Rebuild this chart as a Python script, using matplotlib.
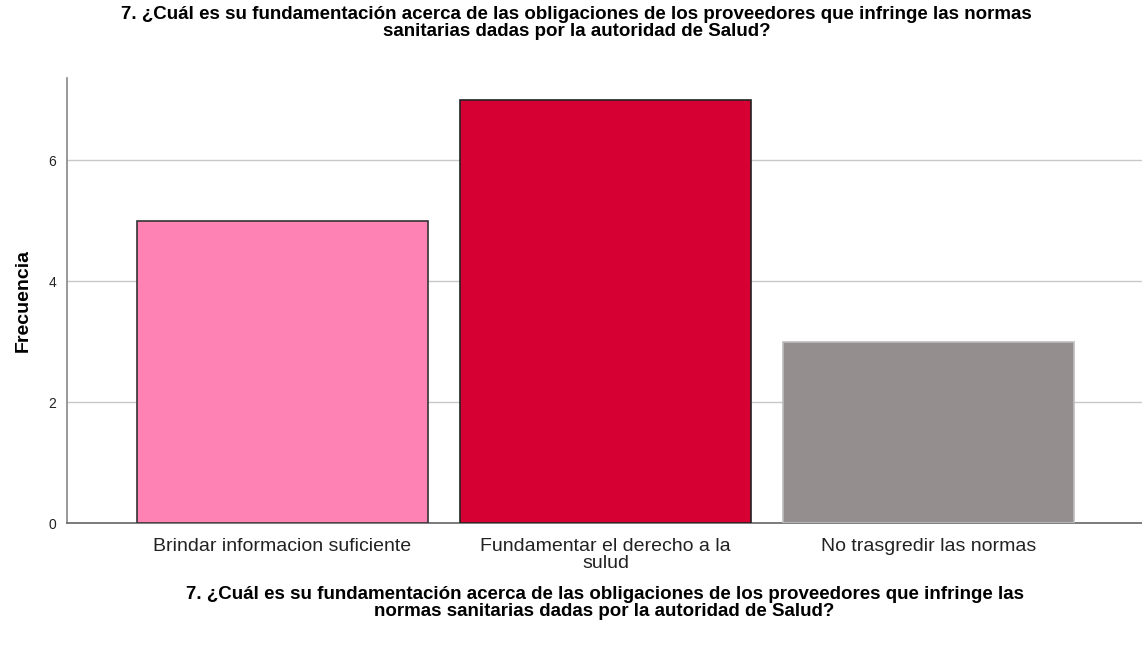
import matplotlib
matplotlib.use('Agg')
import matplotlib.pyplot as plt

plt.rcParams['font.family'] = ['Liberation Sans', 'DejaVu Sans']

# data
categories = ['Brindar informacion suficiente', 'Fundamentar el derecho a la\nsulud',
              'No trasgredir las normas']
frecuencias = [5, 7, 3]
colores = ['#FF82B4', '#D70032', '#948F8E']
bordes = ['#333333', '#222222', '#BDBDBD']
yticks = [0, 2, 4, 6]
titulo = ('7. ¿Cuál es su fundamentación acerca de las obligaciones de los proveedores que infringe las normas\n'
          'sanitarias dadas por la autoridad de Salud?')
titulo_x = ('7. ¿Cuál es su fundamentación acerca de las obligaciones de los proveedores que infringe las\n'
            'normas sanitarias dadas por la autoridad de Salud?')

fig = plt.figure(figsize=(11.42, 6.46), dpi=100)
ax = fig.add_axes([0.0587, 0.1904, 0.9413, 0.6886])

pos = list(range(len(categories)))
ax.bar(pos, frecuencias, width=0.9, color=colores, edgecolor=bordes, linewidth=1.2, zorder=3)

ax.set_xlim(-0.667, 2.66)
ax.set_ylim(0, 7.36)
ax.set_yticks(yticks)
ax.set_xticks(pos)
ax.set_xticklabels(categories, fontsize=14, color='#222222', linespacing=1.0)
ax.tick_params(axis='y', length=0, labelsize=10, pad=8, colors='#222222')
ax.tick_params(axis='x', length=0, pad=11)
ax.grid(axis='y', color='#C8C8C8', linewidth=1, zorder=0)

for s in ['top', 'right']:
    ax.spines[s].set_visible(False)
ax.spines['left'].set_color('#888888')
ax.spines['bottom'].set_color('#666666')
ax.spines['left'].set_linewidth(1.2)
ax.spines['bottom'].set_linewidth(1.2)

ax.set_ylabel('Frecuencia', fontsize=14, fontweight='bold', labelpad=12)
ax.set_xlabel(titulo_x, fontsize=13.5, fontweight='bold', labelpad=10, linespacing=0.95)
fig.text(0.505, 0.99, titulo, ha='center', va='top', fontsize=13.5, fontweight='bold', linespacing=0.95)

fig.savefig('out.png', dpi=100)
